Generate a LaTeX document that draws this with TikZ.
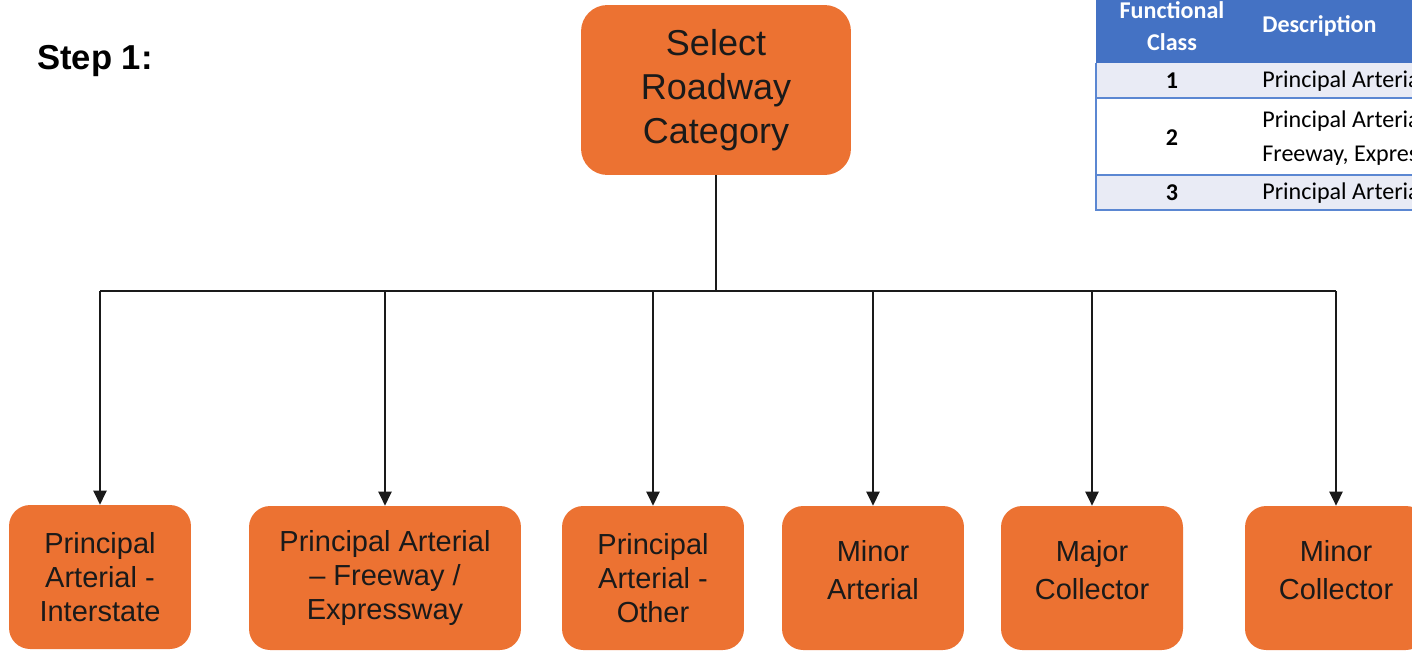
\documentclass[tikz,border=0pt]{standalone}
\usepackage{fontspec}
\setmainfont{Liberation Sans}
\newfontfamily\tablefont{Carlito}
\usetikzlibrary{arrows.meta,positioning,calc}
\definecolor{roadorange}{HTML}{EC7232}
\definecolor{tblblue}{HTML}{4472C4}
\definecolor{tblline}{HTML}{5B87D2}
\definecolor{tblrow}{HTML}{E9EBF5}
\definecolor{ink}{HTML}{1A1A1A}
\tikzset{
  catbox/.style={fill=roadorange,rounded corners=12pt,align=center,inner sep=2pt,
                 minimum width=3.64cm,minimum height=2.88cm,text=ink,
                 font=\fontsize{16.5}{19.3}\selectfont},
  rootbox/.style={fill=roadorange,rounded corners=15pt,align=center,text=ink,
                  minimum width=5.4cm,minimum height=3.4cm,
                  font=\fontsize{20.5}{25}\selectfont},
  feed/.style={line width=1.2pt,draw=ink},
  drop/.style={feed,-{Triangle[length=8pt,width=7.5pt]}},
  headcell/.style={font=\tablefont\bfseries\fontsize{13.7}{18}\selectfont,
                   text=white,align=center,inner sep=0pt},
  numcell/.style={font=\tablefont\bfseries\fontsize{13.7}{18}\selectfont,inner sep=0pt},
  cell/.style={font=\tablefont\fontsize{13.7}{19.3}\selectfont,align=left,
               anchor=west,inner sep=0pt},
  rowrule/.style={draw=tblline,line width=1.1pt}
}
\begin{document}
\begin{tikzpicture}[x=0.02cm,y=-0.02cm]
  \path[use as bounding box] (0,0) rectangle (1412,653);
  \clip (0,0) rectangle (1412,653);

  \node[font=\bfseries\fontsize{19.7}{22}\selectfont,anchor=west,inner sep=0pt]
    (step) at (37,61) {Step 1:};

  \node[rootbox] (root) at (716,90) {Select\\Roadway\\Category};

  % roadway categories
  \node[catbox] (pai) at (100,577) {Principal\\Arterial -\\Interstate};
  \node[catbox,minimum width=5.44cm] (paf) at (385,578)
    {Principal Arterial\\-- Freeway /\\Expressway};
  \node[catbox] (pao) at (653,578) {Principal\\Arterial -\\Other};
  \node[catbox] (mia) at (873,578) {Minor\\[2pt]Arterial\\[-10pt]};
  \node[catbox] (mjc) at (1092,578) {Major\\[2pt]Collector\\[-10pt]};
  \node[catbox] (mic) at (1336,578) {Minor\\[2pt]Collector\\[-10pt]};

  \coordinate (bus) at (716,291);
  \draw[feed] (root.south) -- (bus);
  \draw[feed] (pai.north |- bus) -- (mic.north |- bus);
  \foreach \cat in {pai,paf,pao,mia,mjc,mic}{
    \draw[drop] (\cat.north |- bus) -- (\cat.north);
  }

  % functional class table
  \fill[tblblue] (1096,-20) rectangle (1450,63);
  \fill[tblrow] (1096,63) rectangle (1450,98);
  \fill[white] (1096,98) rectangle (1450,175);
  \fill[tblrow] (1096,175) rectangle (1450,210);
  \draw[rowrule] (1096,63) -- (1096,210) -- (1450,210)
    (1096,98) -- (1450,98) (1096,175) -- (1450,175);

  \node[headcell] (fc) at (1172,26) {Functional\\Class};
  \node[headcell,anchor=west] (desc) at (1262,26) {Description};
  \node[numcell] (c1) at (1172,81) {1};
  \node[cell] (d1) at (1262,81) {Principal Arteria};
  \node[numcell] (c2) at (1172,138) {2};
  \node[cell] (d2) at (1262,138) {Principal Arteria\\Freeway, Expres};
  \node[numcell] (c3) at (1172,193) {3};
  \node[cell] (d3) at (1262,193) {Principal Arteria};
\end{tikzpicture}
\end{document}
